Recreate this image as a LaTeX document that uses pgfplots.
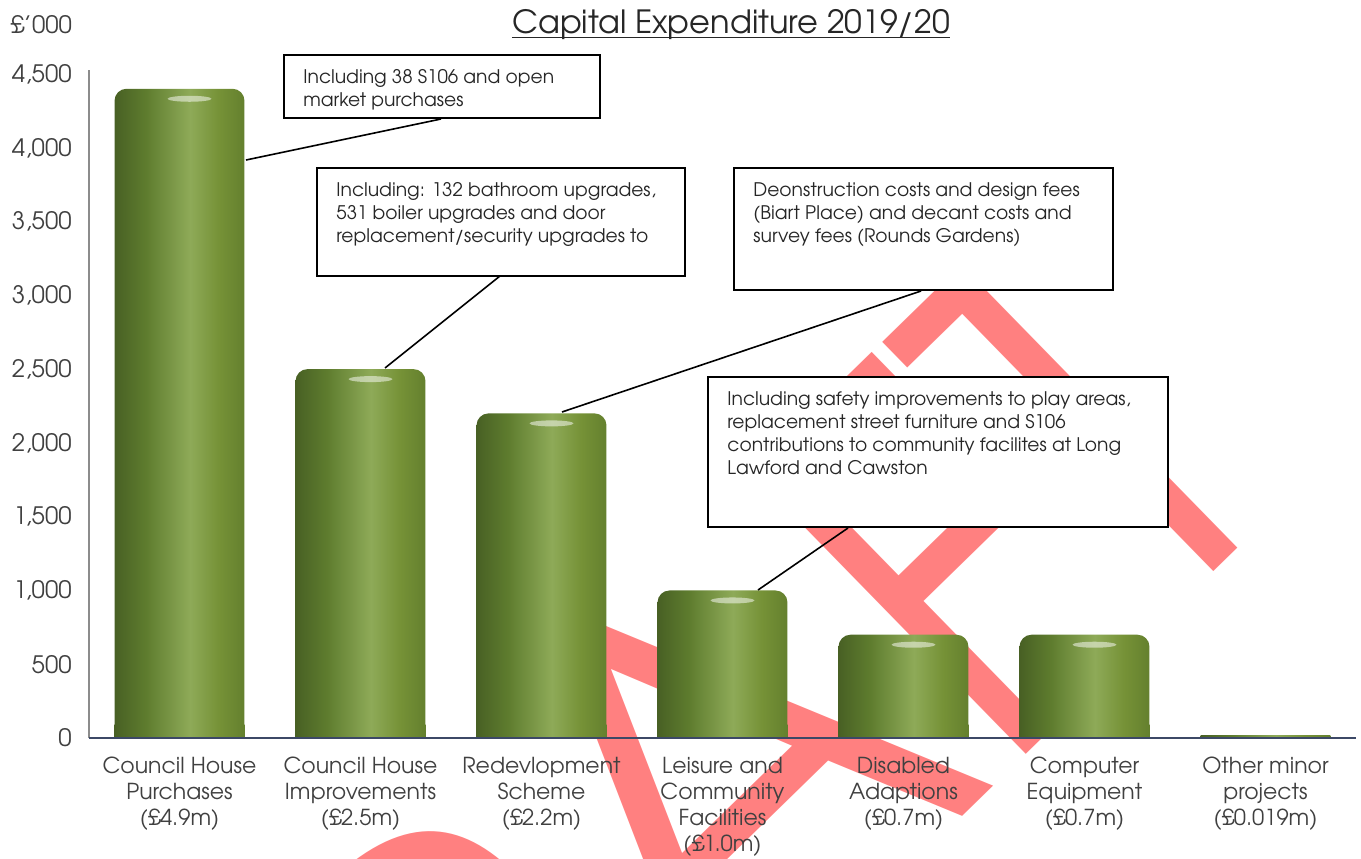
\documentclass[border=0pt]{standalone}
\usepackage{pgfplots}
\pgfplotsset{compat=1.18}
\usetikzlibrary{shapes.geometric}
\usepackage{fontspec}
\setmainfont{texgyreadventor-regular.otf}
\newfontfamily\wmfont{texgyreadventor-regular.otf}
\definecolor{wmred}{RGB}{255,128,128}
\definecolor{txt}{RGB}{64,64,64}
\definecolor{anntxt}{RGB}{38,38,38}
\definecolor{baseln}{RGB}{60,72,102}
\definecolor{yaxis}{RGB}{140,140,140}
\definecolor{gA}{RGB}{72,96,36}
\definecolor{gB}{RGB}{94,124,46}
\definecolor{gC}{RGB}{142,170,88}
\definecolor{gD}{RGB}{118,146,55}
\definecolor{gE}{RGB}{100,128,46}
\pgfdeclarehorizontalshading{cyl}{100bp}{color(0bp)=(gA); color(25bp)=(gA); color(37bp)=(gB); color(54bp)=(gC); color(65bp)=(gD); color(75bp)=(gE); color(100bp)=(gE)}
\pgfplotsset{
  cylbase/.style={ybar, bar width=0.718, bar shift=0pt, draw=none, shade, shading=cyl},
  cylbar/.style={cylbase, rounded corners=6pt,
    nodes near coords={},
    every node near coord/.append style={shape=ellipse, fill=white, fill opacity=0.5, draw=none,
      minimum width=22pt, minimum height=3pt, inner sep=0pt, anchor=center, xshift=5pt, yshift=-5pt}},
}
\begin{document}
\begin{tikzpicture}
% watermark (behind everything)
\begin{scope}[x=0.5pt,y=-0.5pt]
\tikzset{wm/.style={rotate=44.3, inner sep=0pt, text=wmred,
      font=\wmfont\fontsize{267.5}{270}\selectfont}}
\node[wm, xscale=0.85, anchor=base] at (1226,560) {T};
\node[wm, xscale=0.85, anchor=base east] at (1160,624) {F};
\node[wm, xscale=1.0, anchor=base east] at (998,782) {A};
\node[wm, xscale=0.85, anchor=base east] at (715,1058) {DR};
\end{scope}

\begin{axis}[
  at={(44.5pt,-369pt)}, anchor=south west,
  scale only axis, width=633.5pt, height=332pt,
  xmin=-0.5, xmax=6.5, ymin=0, ymax=4500,
  axis line style={draw=none},
  tick style={draw=none}, major tick length=0pt,
  ytick={0,500,...,4500},
  scaled y ticks=false,
  /pgf/number format/.cd, 1000 sep={,}, assume math mode=true,
  /pgfplots/.cd,
  yticklabel style={font=\fontsize{12}{14}\selectfont, text=txt, anchor=east, inner sep=0pt, xshift=-8.5pt},
  xtick={0,...,6},
  xticklabels={{Council House\\Purchases\\(£4.9m)},
               {Council House\\Improvements\\(£2.5m)},
               {Redevlopment\\Scheme\\(£2.2m)},
               {Leisure and\\Community\\Facilities\\(£1.0m)},
               {Disabled\\Adaptions\\(£0.7m)},
               {Computer\\Equipment\\(£0.7m)},
               {Other minor\\projects\\(£0.019m)}},
  xticklabel style={font=\fontsize{11}{13}\selectfont, text=txt, align=center, anchor=north, inner sep=0pt, yshift=-9.5pt},
  clip=false,
]
\addplot[cylbar] coordinates {(0,4400)};
\addplot[cylbar] coordinates {(1,2500)};
\addplot[cylbar] coordinates {(2,2200)};
\addplot[cylbar] coordinates {(3,1000)};
\addplot[cylbar] coordinates {(4,700)};
\addplot[cylbar] coordinates {(5,700)};
\addplot[cylbase] coordinates {(6,19)};
% square off the bottoms of the rounded bars
\addplot[cylbase] coordinates {(0,90)};
\addplot[cylbase] coordinates {(1,90)};
\addplot[cylbase] coordinates {(2,90)};
\addplot[cylbase] coordinates {(3,90)};
\addplot[cylbase] coordinates {(4,90)};
\addplot[cylbase] coordinates {(5,90)};
\draw[yaxis, line width=1pt] (rel axis cs:0,0) -- (rel axis cs:0,1.006);
\draw[baseln, line width=1.1pt] (rel axis cs:0,0) -- (rel axis cs:1,0);
\end{axis}

\begin{scope}[x=0.5pt,y=-0.5pt]
% connectors
\draw[black, line width=0.8pt] (441,119) -- (246,160);
\draw[black, line width=0.8pt] (500,276) -- (385,368);
\draw[black, line width=0.8pt] (921,291) -- (562,412);
\draw[black, line width=0.8pt] (848,528) -- (758,590);
% boxes
\draw[black, line width=1pt, fill=white] (284,55) rectangle (600,118);
\draw[black, line width=1pt, fill=white] (317,168) rectangle (685,276);
\draw[black, line width=1pt, fill=white] (734,168) rectangle (1113,290);
\draw[black, line width=1pt, fill=white] (708,377) rectangle (1168,527);
\tikzset{ann/.style={anchor=north west, inner sep=0pt, align=left, text=anntxt, font=\fontsize{9.35}{11.5}\selectfont}}
\node[ann] at (303,69) {Including 38 S106 and open\\market purchases};
\node[ann] at (336,182) {Including: 132 bathroom upgrades,\\531 boiler upgrades and door\\replacement/security upgrades to};
\node[ann] at (753,182) {Deonstruction costs and design fees\\(Biart Place) and decant costs and\\survey fees (Rounds Gardens)};
\node[ann] at (727,391) {Including safety improvements to play areas,\\replacement street furniture and S106\\contributions to community facilites at Long\\Lawford and Cawston};
% title
\node[anchor=base, inner sep=0pt, text=anntxt, font=\fontsize{16}{20}\selectfont] (title) at (731,33) {Capital Expenditure 2019/20};
\draw[anntxt, line width=0.9pt] ([yshift=-2.2pt]title.base west) -- ([yshift=-2.2pt]title.base east);
\node[anchor=base west, inner sep=0pt, text=txt, font=\fontsize{12}{14}\selectfont] at (10,33) {£'000};
\end{scope}
\pgfresetboundingbox
\path[use as bounding box] (0pt,0pt) rectangle (680.5pt,-429pt);
\end{tikzpicture}
\end{document}
